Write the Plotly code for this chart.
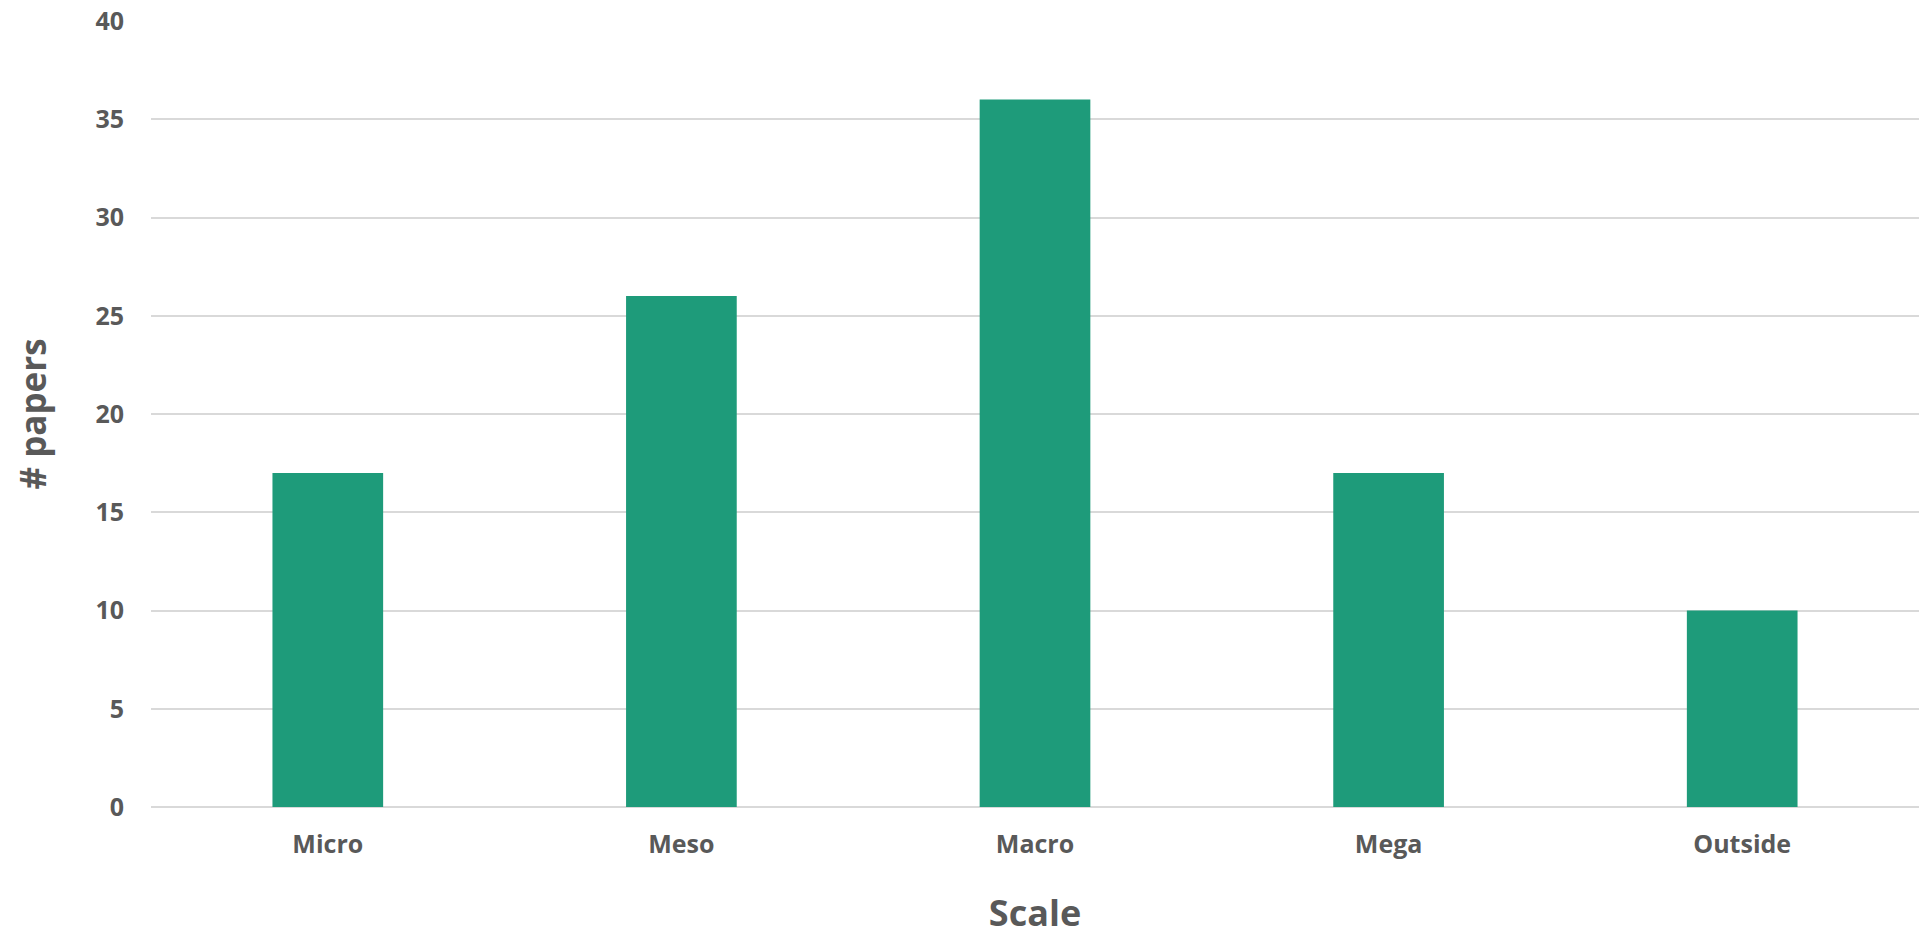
import plotly.graph_objects as go

# Number of papers per spatial scale
categories = ["Micro", "Meso", "Macro", "Mega", "Outside"]
papers = [17, 26, 36, 17, 10]

BAR_COLOR = "#1E9B7A"
TEXT_COLOR = "#595959"
GRID_COLOR = "#D9D9D9"
FONT = "Open Sans"

fig = go.Figure(
    go.Bar(
        x=categories,
        y=papers,
        marker=dict(color=BAR_COLOR, line=dict(width=0)),
    )
)

fig.update_layout(
    width=1921,
    height=937,
    margin=dict(l=151, r=2, t=21, b=130),
    plot_bgcolor="white",
    paper_bgcolor="white",
    bargap=0.687,
    showlegend=False,
    font=dict(family=FONT, color=TEXT_COLOR),
)

fig.update_xaxes(
    showgrid=False,
    showline=False,
    ticks="",
    tickfont=dict(family=FONT, size=25, color=TEXT_COLOR, weight="bold"),
    ticklabelstandoff=20,
    title=dict(
        text="Scale",
        font=dict(family=FONT, size=36, color=TEXT_COLOR, weight="bold"),
        standoff=44,
    ),
)

fig.update_yaxes(
    range=[0, 40],
    dtick=5,
    showgrid=True,
    gridcolor=GRID_COLOR,
    gridwidth=2,
    zeroline=True,
    zerolinecolor=GRID_COLOR,
    zerolinewidth=2,
    showline=False,
    ticks="",
    tickfont=dict(family=FONT, size=25, color=TEXT_COLOR, weight="bold"),
    ticklabelstandoff=26,
    title=dict(
        text="# papers",
        font=dict(family=FONT, size=35, color=TEXT_COLOR, weight="bold"),
        standoff=38,
    ),
)

fig.write_html("out.html")
